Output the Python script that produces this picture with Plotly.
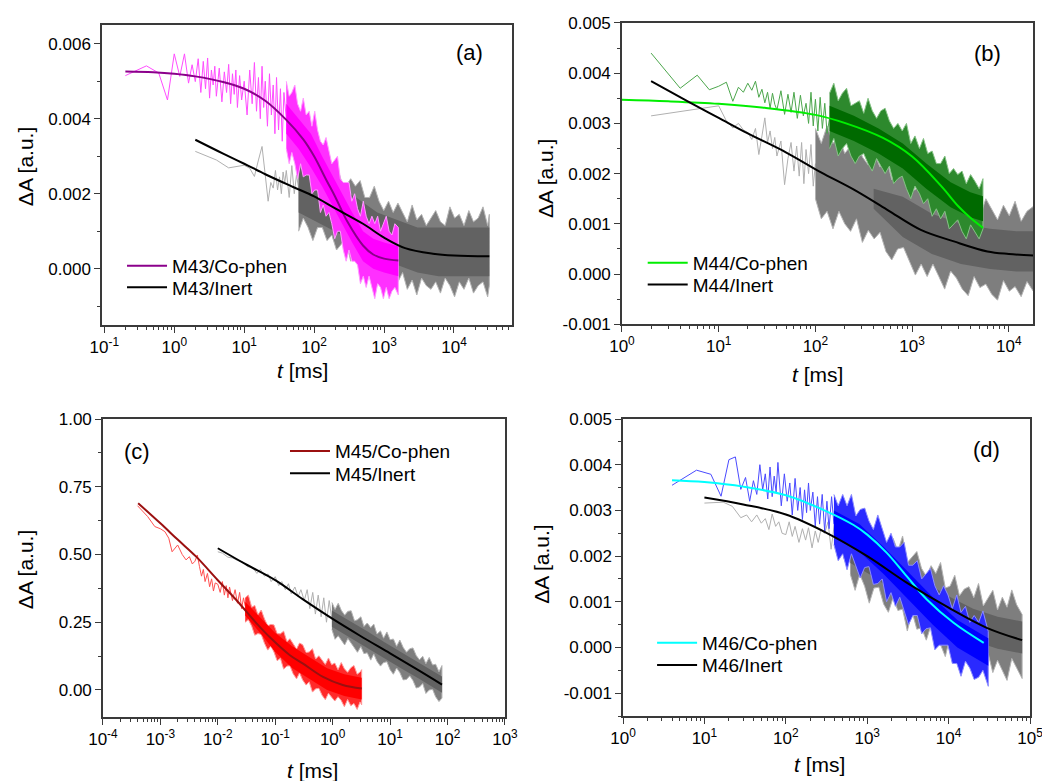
import plotly.graph_objects as go

# ================= panel (a): M43 =================
a_co_fit_t = [0.2, 0.5, 1, 2, 5, 10, 20, 40, 70, 100, 150, 200, 300, 500, 700, 1000, 1600]
a_co_fit = [0.00526, 0.00524, 0.0052, 0.00513, 0.00498, 0.0048, 0.00448, 0.00397, 0.00345, 0.0030,
            0.00236, 0.00192, 0.00125, 0.00062, 0.00038, 0.00027, 0.00022]
a_in_fit_t = [2, 5, 10, 20, 50, 100, 200, 500, 1000, 2000, 5000, 10000, 32000]
a_in_fit = [0.00344, 0.00307, 0.0028, 0.00252, 0.00218, 0.00193, 0.00161, 0.0012, 0.00083, 0.00055,
            0.0004, 0.00035, 0.00033]

# M43/Co-phen raw data: early single points, then noise envelope (outer) and dense core
a_co_t = [0.2, 0.4, 0.6, 0.8, 1.0, 1.2, 1.4, 1.6, 1.8, 2.0, 2.2, 2.4, 2.6, 2.8, 3.0, 3.2, 3.4, 3.6, 3.8,
          4.0, 4.4, 4.8, 5.2, 5.6, 6.0, 6.4, 6.8, 7.2, 7.6, 8.0, 8.6, 9.2, 10, 11, 12, 13, 14, 15, 16,
          17, 18, 19, 20, 21.5, 23, 24.5, 26, 27.5, 29, 31, 33, 35, 37, 40]
a_co = [0.00515, 0.00541, 0.00522, 0.00450, 0.00573, 0.00513, 0.00573, 0.00495, 0.00544, 0.00499,
        0.00560, 0.00470, 0.00553, 0.00480, 0.00562, 0.00455, 0.00530, 0.00490, 0.00540, 0.00460,
        0.00535, 0.00445, 0.00525, 0.00470, 0.00545, 0.00440, 0.00520, 0.00465, 0.00530, 0.00430,
        0.00515, 0.00450, 0.00500, 0.0041, 0.0053, 0.0044, 0.0055, 0.0042, 0.0051, 0.0040, 0.0054,
        0.0043, 0.0050, 0.0038, 0.0052, 0.0041, 0.0049, 0.0036, 0.0051, 0.0037, 0.0048, 0.0034,
        0.0047, 0.0040]
a_co_env_t = [40, 44, 48, 53, 58, 64, 70, 77, 85, 93, 102, 112, 123, 135, 148, 163, 179, 197, 216, 237,
              261, 287, 315, 346, 380, 418, 459, 505, 555, 610, 670, 737, 810, 890, 978, 1075, 1181,
              1298, 1427, 1600]
a_co_env_hi = [0.0050, 0.0046, 0.0047, 0.0049, 0.0044, 0.0042, 0.00455, 0.0041, 0.0042, 0.0038,
               0.0042, 0.0037, 0.0034, 0.0033, 0.0035, 0.0031, 0.0028, 0.0029, 0.0030, 0.0024,
               0.0023, 0.0023, 0.0023, 0.0018, 0.0020, 0.0016, 0.0014, 0.0018, 0.0014, 0.0012,
               0.0014, 0.0012, 0.0014, 0.0010, 0.0012, 0.0014, 0.0010, 0.0009, 0.0012, 0.0011]
a_co_env_lo = [0.0032, 0.0028, 0.0031, 0.0028, 0.0024, 0.0028, 0.00245, 0.0025, 0.0025, 0.0020,
               0.0021, 0.0021, 0.0015, 0.0017, 0.0014, 0.0015, 0.0012, 0.0008, 0.0010, 0.0010,
               0.0005, 0.0002, 0.0005, 0.0002, 0.0002, 0.0001, -0.0004, -0.0002, -0.0005, -0.0002,
               -0.0005, -0.0008, -0.0004, -0.0005, -0.0008, -0.0005, -0.0008, -0.0006, -0.0005, -0.0007]
a_co_core_t = [40, 60, 90, 130, 180, 250, 350, 500, 700, 1000, 1600]
a_co_core_hi = [0.0044, 0.0040, 0.0036, 0.0030, 0.0025, 0.0020, 0.0015, 0.0010, 0.0008, 0.0007, 0.0006]
a_co_core_lo = [0.0036, 0.0032, 0.0027, 0.0022, 0.0017, 0.0012, 0.0007, 0.0002, 0.0000, -0.0001, -0.0002]

# M43/Inert raw data
a_in_t = [2, 4, 6, 8, 10, 12, 14, 16, 18, 20, 22, 24, 26, 28, 30, 32, 34, 36, 38, 40, 44, 48, 52, 56, 60]
a_in = [0.00313, 0.00290, 0.00269, 0.00272, 0.00276, 0.00268, 0.00246, 0.00290, 0.00326, 0.00250,
        0.00180, 0.00230, 0.00215, 0.00262, 0.00210, 0.00245, 0.00200, 0.00258, 0.00228, 0.00262,
        0.00190, 0.00275, 0.00200, 0.00250, 0.00215]
a_in_env_t = [60, 70, 82, 96, 112, 131, 153, 179, 209, 244, 285, 333, 389, 455, 531, 620, 725, 847, 990,
              1160, 1350, 1580, 1840, 2150, 2520, 2940, 3440, 4010, 4690, 5480, 6400, 7480, 8740,
              10200, 11900, 13900, 16300, 19000, 22200, 26000, 30300, 32000]
a_in_env_hi = [0.0030, 0.00325, 0.0027, 0.00295, 0.0027, 0.0029, 0.00245, 0.0026, 0.0028, 0.00235,
               0.0022, 0.0024, 0.0022, 0.00235, 0.0019, 0.0019, 0.0022, 0.0018, 0.00155, 0.0018,
               0.0015, 0.00175, 0.0015, 0.00125, 0.0017, 0.0013, 0.00145, 0.00115, 0.00135, 0.00155,
               0.00125, 0.00115, 0.00165, 0.00135, 0.00145, 0.00115, 0.00155, 0.00125, 0.00135,
               0.00165, 0.00115, 0.00145]
a_in_env_lo = [0.0010, 0.00135, 0.0011, 0.00075, 0.0011, 0.0011, 0.00075, 0.0009, 0.0005, 0.00065,
               0.0008, 0.0002, 0.0005, 0.00025, 0.0005, 0.0002, -0.0001, 0.0001, -0.00035, 0.0001,
               -0.0002, -0.00035, -0.0001, -0.00055, -0.0003, -0.0007, -0.00025, -0.00045, -0.00055,
               -0.00035, -0.00065, -0.00025, -0.00045, -0.00075, -0.00035, -0.00055, -0.00025,
               -0.00065, -0.00045, -0.00035, -0.00075, -0.00045]
a_in_core_t = [60, 100, 200, 400, 800, 1500, 3000, 6000, 12000, 32000]
a_in_core_hi = [0.0027, 0.0025, 0.0022, 0.0019, 0.0015, 0.0013, 0.0011, 0.0011, 0.0011, 0.0011]
a_in_core_lo = [0.0015, 0.0013, 0.0010, 0.0007, 0.0003, 0.0001, -0.0001, -0.0002, -0.0002, -0.0002]

# ================= panel (b): M44 =================
b_co_fit_t = [1, 3, 10, 30, 100, 200, 500, 1000, 2000, 3000, 4000, 5400]
b_co_fit = [0.00347, 0.00344, 0.00339, 0.00331, 0.00317, 0.00301, 0.00271, 0.00234, 0.00175, 0.00135,
            0.00112, 0.00092]
b_in_fit_t = [2, 5, 10, 20, 50, 113, 250, 553, 1230, 2700, 6000, 10000, 18000]
b_in_fit = [0.00384, 0.00342, 0.00311, 0.0028, 0.00242, 0.00203, 0.00168, 0.00128, 0.00088, 0.00065,
            0.00045, 0.0004, 0.00037]

b_co_t = [2, 4, 6, 8, 10, 12, 14, 16, 18, 20, 22, 24, 26, 28, 30, 32, 34, 36, 38, 40, 44, 48, 52, 56,
          60, 65, 70, 75, 80, 85, 90, 95, 100, 106, 112, 118, 125, 132, 140]
b_co = [0.00440, 0.00370, 0.00396, 0.00367, 0.00374, 0.00382, 0.00344, 0.00372, 0.00362, 0.00380,
        0.00366, 0.00384, 0.00352, 0.00368, 0.00341, 0.00362, 0.00330, 0.00360, 0.00338, 0.00327,
        0.00365, 0.00318, 0.00358, 0.00322, 0.00362, 0.00310, 0.00356, 0.00315, 0.00340, 0.00300,
        0.00362, 0.00295, 0.00348, 0.00285, 0.00352, 0.00290, 0.00340, 0.00280, 0.00310]
b_co_env_t = [140, 155, 172, 190, 210, 233, 258, 285, 316, 350, 387, 429, 475, 526, 582, 644, 713, 790,
              874, 968, 1070, 1190, 1310, 1450, 1610, 1780, 1970, 2180, 2420, 2680, 2960, 3280, 3630,
              4020, 4450, 4930, 5400]
b_co_env_hi = [0.0036, 0.0038, 0.00345, 0.0036, 0.0037, 0.00335, 0.0034, 0.00345, 0.0032, 0.0035,
               0.00325, 0.0031, 0.00325, 0.0033, 0.00305, 0.0029, 0.0030, 0.00285, 0.0030, 0.0026,
               0.00275, 0.0025, 0.0027, 0.0024, 0.00245, 0.0022, 0.0022, 0.00235, 0.0020, 0.0021,
               0.00198, 0.00205, 0.0018, 0.00198, 0.00185, 0.0017, 0.0019]
b_co_env_lo = [0.0025, 0.0027, 0.00235, 0.0025, 0.0026, 0.00235, 0.0022, 0.00235, 0.0024, 0.0022,
               0.00205, 0.0023, 0.00215, 0.0020, 0.00215, 0.0018, 0.0019, 0.00195, 0.0017, 0.0015,
               0.00175, 0.0016, 0.0014, 0.0015, 0.00115, 0.0013, 0.0011, 0.00125, 0.0009, 0.0010,
               0.00108, 0.00085, 0.0007, 0.00098, 0.00085, 0.0007, 0.0009]
b_co_core_t = [140, 250, 450, 800, 1400, 2500, 4000, 5400]
b_co_core_hi = [0.00335, 0.00315, 0.0029, 0.0026, 0.0022, 0.00183, 0.00163, 0.00155]
b_co_core_lo = [0.00285, 0.00265, 0.0024, 0.0021, 0.0017, 0.00133, 0.00113, 0.00105]

b_in_t = [2, 10, 12, 14, 16, 18, 20, 22, 24, 26, 28, 30, 32, 34, 36, 38, 40, 44, 48, 52, 56, 60, 64,
          68, 72, 76, 80, 85, 90, 95, 100]
b_in = [0.00315, 0.00335, 0.00305, 0.00291, 0.00300, 0.00287, 0.00282, 0.00268, 0.00290, 0.00238,
        0.00275, 0.00311, 0.00262, 0.00285, 0.00250, 0.00272, 0.00235, 0.00265, 0.00178, 0.00230,
        0.00262, 0.00205, 0.00255, 0.00195, 0.00262, 0.00180, 0.00248, 0.00200, 0.00258, 0.00175,
        0.00220]
b_in_env_t = [100, 115, 132, 152, 175, 201, 231, 266, 306, 352, 405, 466, 536, 616, 708, 815, 937, 1080,
              1240, 1430, 1640, 1890, 2170, 2500, 2870, 3300, 3800, 4370, 5020, 5780, 6640, 7640, 8790,
              10100, 11600, 13400, 15400, 18000]
b_in_env_hi = [0.0029, 0.0026, 0.00295, 0.0026, 0.00275, 0.0024, 0.00255, 0.0027, 0.00233, 0.00217,
               0.0024, 0.00213, 0.00235, 0.00188, 0.0020, 0.00203, 0.00165, 0.00168, 0.0019, 0.00165,
               0.0014, 0.00165, 0.0014, 0.00166, 0.00122, 0.0014, 0.00127, 0.00145, 0.00113, 0.0015,
               0.0013, 0.00108, 0.00137, 0.00116, 0.00145, 0.00105, 0.00125, 0.00135]
b_in_env_lo = [0.0015, 0.0011, 0.00125, 0.0009, 0.00125, 0.0010, 0.00085, 0.0011, 0.00063, 0.00087,
               0.0007, 0.00083, 0.00045, 0.00028, 0.0005, 0.00053, 0.00025, -0.00002, 0.0002, -0.00005,
               0.0002, -0.00005, -0.0003, 0.00006, -0.00008, -0.0003, -0.00043, -0.00005, -0.00027,
               -0.0002, -0.0004, -0.00052, -0.00013, -0.00034, -0.00025, -0.00045, -0.00015, -0.00035]
b_in_core_t = [400, 800, 1600, 3200, 6400, 12000, 18000]
b_in_core_hi = [0.0017, 0.00154, 0.0012, 0.0010, 0.0009, 0.00085, 0.00085]
b_in_core_lo = [0.0013, 0.00074, 0.0004, 0.0002, 0.0001, 0.00005, 0.00005]

# ================= panel (c): M45 =================
c_co_fit_t = [4.1e-4, 1e-3, 2e-3, 4.2e-3, 0.01, 0.021, 0.05, 0.079, 0.18, 0.30, 0.68, 1.5, 3.2]
c_co_fit = [0.689, 0.615, 0.555, 0.492, 0.405, 0.332, 0.24, 0.196, 0.128, 0.098, 0.048, 0.018, 0.005]
c_in_fit_t = [0.01, 0.03, 0.1, 0.3, 1, 3, 10, 30, 80]
c_in_fit = [0.523, 0.465, 0.405, 0.335, 0.262, 0.20, 0.135, 0.075, 0.02]

c_co_t = [4e-4, 6e-4, 8e-4, 1.0e-3, 1.2e-3, 1.4e-3, 1.6e-3, 2.0e-3, 2.4e-3, 2.8e-3, 3.2e-3, 3.6e-3,
          4.0e-3, 4.4e-3, 4.8e-3, 5.2e-3, 5.6e-3, 6.0e-3, 6.6e-3, 7.2e-3, 7.8e-3, 8.4e-3, 9.0e-3,
          0.010, 0.011, 0.012, 0.013, 0.014, 0.015, 0.016, 0.018, 0.020, 0.022, 0.024, 0.026, 0.028, 0.030]
c_co = [0.680, 0.640, 0.603, 0.595, 0.584, 0.560, 0.510, 0.535, 0.500, 0.480, 0.492, 0.465, 0.475,
        0.498, 0.455, 0.420, 0.445, 0.400, 0.430, 0.381, 0.410, 0.365, 0.395, 0.390, 0.36, 0.40, 0.35,
        0.385, 0.34, 0.38, 0.33, 0.37, 0.32, 0.36, 0.30, 0.34, 0.31]
c_co_env_t = [0.03, 0.034, 0.039, 0.044, 0.05, 0.057, 0.065, 0.074, 0.084, 0.095, 0.108, 0.123, 0.14,
              0.16, 0.18, 0.205, 0.235, 0.265, 0.3, 0.345, 0.39, 0.445, 0.505, 0.575, 0.655, 0.745,
              0.845, 0.96, 1.09, 1.24, 1.41, 1.6, 1.82, 2.07, 2.35, 2.67, 3.0, 3.2]
c_co_env_hi = [0.34, 0.35, 0.305, 0.312, 0.278, 0.295, 0.262, 0.237, 0.242, 0.24, 0.208, 0.207, 0.217,
               0.178, 0.189, 0.17, 0.151, 0.173, 0.167, 0.138, 0.14, 0.152, 0.114, 0.126, 0.11, 0.094,
               0.118, 0.093, 0.099, 0.075, 0.101, 0.078, 0.065, 0.082, 0.09, 0.058, 0.066, 0.075]
c_co_env_lo = [0.25, 0.26, 0.235, 0.202, 0.208, 0.205, 0.172, 0.147, 0.162, 0.14, 0.108, 0.117, 0.077,
               0.088, 0.089, 0.06, 0.041, 0.063, 0.037, 0.018, 0.03, -0.008, 0.004, 0.006, -0.02,
               -0.036, -0.012, -0.027, -0.041, -0.025, -0.039, -0.062, -0.035, -0.058, -0.05, -0.072,
               -0.044, -0.055]
c_co_core_t = [0.03, 0.06, 0.1, 0.2, 0.4, 0.8, 1.6, 3.2]
c_co_core_hi = [0.325, 0.26, 0.21, 0.16, 0.119, 0.08, 0.058, 0.045]
c_co_core_lo = [0.275, 0.20, 0.14, 0.08, 0.039, 0.0, -0.022, -0.035]

c_in_t = [0.01, 0.012, 0.015, 0.018, 0.022, 0.027, 0.033, 0.04, 0.048, 0.055, 0.065, 0.075, 0.085, 0.1,
          0.115, 0.13, 0.15, 0.17, 0.19, 0.22, 0.25, 0.28, 0.32, 0.36, 0.4, 0.45, 0.5, 0.56, 0.63, 0.7,
          0.78, 0.87, 0.97]
c_in = [0.510, 0.505, 0.49, 0.487, 0.478, 0.473, 0.455, 0.452, 0.43, 0.445, 0.42, 0.428, 0.40, 0.418,
        0.385, 0.40, 0.37, 0.392, 0.355, 0.38, 0.345, 0.37, 0.33, 0.37, 0.30, 0.36, 0.28, 0.35, 0.27,
        0.34, 0.25, 0.33, 0.26]
c_in_env_t = [0.97, 1.1, 1.25, 1.42, 1.62, 1.84, 2.1, 2.4, 2.7, 3.1, 3.5, 4.0, 4.6, 5.2, 5.9, 6.8, 7.7,
              8.8, 10, 11.4, 13, 14.8, 16.9, 19.3, 22, 25, 28.5, 32.5, 37, 42, 48, 55, 62, 71, 80]
c_in_env_hi = [0.323, 0.297, 0.32, 0.293, 0.276, 0.29, 0.292, 0.255, 0.259, 0.27, 0.234, 0.247, 0.23,
               0.243, 0.206, 0.218, 0.191, 0.214, 0.185, 0.188, 0.161, 0.184, 0.157, 0.139, 0.152,
               0.155, 0.127, 0.111, 0.124, 0.097, 0.12, 0.092, 0.095, 0.067, 0.09]
c_in_env_lo = [0.223, 0.187, 0.20, 0.183, 0.166, 0.19, 0.172, 0.155, 0.139, 0.16, 0.134, 0.137, 0.11,
               0.133, 0.106, 0.088, 0.101, 0.104, 0.075, 0.058, 0.081, 0.064, 0.037, 0.039, 0.052,
               0.035, 0.007, 0.011, 0.024, -0.013, 0.0, 0.002, -0.025, -0.043, -0.03]
c_in_core_t = [0.97, 2, 4, 8, 16, 32, 64, 80]
c_in_core_hi = [0.293, 0.254, 0.217, 0.176, 0.138, 0.101, 0.063, 0.05]
c_in_core_lo = [0.233, 0.194, 0.157, 0.116, 0.078, 0.041, 0.003, -0.01]

# ================= panel (d): M46 =================
d_co_fit_t = [4, 10, 30, 100, 316, 680, 1000, 1740, 3050, 5400, 11500, 27000]
d_co_fit = [0.00366, 0.00362, 0.00352, 0.00333, 0.00298, 0.00268, 0.00247, 0.00207, 0.00156, 0.00105,
            0.00054, 0.0001]
d_in_fit_t = [10, 30, 100, 316, 1000, 3050, 10000, 29400, 80000]
d_in_fit = [0.00328, 0.00313, 0.00291, 0.00251, 0.0020, 0.00142, 0.00087, 0.00043, 0.00016]

d_co_t = [4, 8, 12, 16, 20, 24, 28, 32, 36, 40, 44, 48, 52, 56, 60, 64, 68, 72, 76, 80, 88, 96, 104,
          112, 120, 130, 140, 150, 160, 170, 180, 190, 200, 215, 230, 245, 260, 280, 300, 320, 340,
          365, 390]
d_co = [0.00355, 0.00388, 0.00379, 0.00331, 0.00411, 0.00417, 0.00346, 0.00372, 0.00320, 0.00365,
        0.00335, 0.00400, 0.00345, 0.00380, 0.00325, 0.00395, 0.00330, 0.00375, 0.00340, 0.00405,
        0.00310, 0.00380, 0.00320, 0.00360, 0.00290, 0.00370, 0.00300, 0.00350, 0.00280, 0.00345,
        0.00295, 0.00360, 0.00300, 0.00340, 0.00265, 0.00330, 0.00270, 0.00335, 0.00255, 0.00320,
        0.00260, 0.00330, 0.00270]
d_co_env_t = [390, 440, 500, 565, 640, 725, 820, 930, 1050, 1190, 1350, 1530, 1730, 1960, 2220, 2510,
              2840, 3220, 3640, 4120, 4670, 5280, 5980, 6770, 7660, 8670, 9820, 11100, 12600, 14200,
              16100, 18200, 20600, 23400, 26400, 30700]
d_co_env_hi = [0.00335, 0.0031, 0.00335, 0.0031, 0.00335, 0.00288, 0.00302, 0.00305, 0.00277, 0.00258,
               0.0029, 0.0026, 0.0023, 0.0025, 0.0022, 0.0022, 0.0023, 0.0018, 0.0018, 0.0019, 0.0015,
               0.00161, 0.00173, 0.00135, 0.00115, 0.00135, 0.00115, 0.00085, 0.00115, 0.00077,
               0.0009, 0.00055, 0.0007, 0.00055, 0.0008, 0.00035]
d_co_env_lo = [0.00225, 0.0019, 0.00205, 0.0017, 0.00205, 0.00178, 0.00152, 0.00175, 0.00177, 0.00138,
               0.0014, 0.0015, 0.0010, 0.0012, 0.0009, 0.0011, 0.0008, 0.0005, 0.0007, 0.0007, 0.0003,
               0.00041, 0.00043, -0.00005, 0.00005, 0.00005, 0.00005, -0.00035, -0.00035, -0.00063,
               -0.0003, -0.00045, -0.0007, -0.00065, -0.0005, -0.00085]
d_co_core_t = [390, 800, 1600, 3200, 6400, 12800, 30700]
d_co_core_hi = [0.0030, 0.0027, 0.0022, 0.00165, 0.0011, 0.0006, 0.0002]
d_co_core_lo = [0.0024, 0.0021, 0.0016, 0.00105, 0.0005, 0.0000, -0.0004]

d_in_t = [10, 17, 22, 28, 33, 38, 44, 50, 56, 62, 68, 75, 82, 90, 100, 110, 120, 130, 145, 160, 175,
          190, 210, 230, 250, 270, 300, 330, 360, 395, 430, 470, 515, 565, 620]
d_in = [0.00316, 0.00318, 0.00309, 0.00284, 0.00290, 0.00275, 0.00290, 0.00272, 0.00282, 0.00258,
        0.00292, 0.00265, 0.00275, 0.00250, 0.00247, 0.00275, 0.00243, 0.00265, 0.00230, 0.00260,
        0.00235, 0.00262, 0.00218, 0.00255, 0.00230, 0.00258, 0.00250, 0.00275, 0.00215, 0.00270,
        0.00205, 0.00262, 0.00195, 0.00255, 0.00220]
d_in_env_t = [620, 710, 810, 930, 1060, 1210, 1390, 1590, 1820, 2080, 2380, 2720, 3110, 3560, 4070,
              4650, 5320, 6090, 6960, 7960, 9110, 10400, 11900, 13600, 15600, 17800, 20400, 23300,
              26700, 30500, 34900, 39900, 45700, 52200, 59700, 68300, 80000]
d_in_env_hi = [0.0030, 0.00265, 0.0028, 0.00304, 0.00257, 0.0024, 0.00272, 0.00245, 0.00217, 0.00239,
               0.00211, 0.00244, 0.00186, 0.00198, 0.0021, 0.00173, 0.00156, 0.00179, 0.00162,
               0.00186, 0.0013, 0.00134, 0.00158, 0.00113, 0.00128, 0.00133, 0.00109, 0.0014, 0.00091,
               0.00108, 0.00125, 0.00082, 0.0011, 0.00088, 0.00126, 0.00094, 0.00072]
d_in_env_lo = [0.0016, 0.00125, 0.0016, 0.00134, 0.00097, 0.0013, 0.00132, 0.00095, 0.00077, 0.00109,
               0.00081, 0.00084, 0.00036, 0.00078, 0.0004, 0.00043, 0.00016, 0.00049, 0.00032, 0.00006,
               -0.0002, 0.00024, -0.00002, -0.00027, -0.00002, 0.00003, -0.00031, -0.00055, -0.00029,
               -0.00012, -0.00055, -0.00028, -0.0005, -0.00072, -0.00024, -0.00046, -0.00068]
d_in_core_t = [620, 1200, 2500, 5000, 10000, 20000, 40000, 80000]
d_in_core_hi = [0.00255, 0.00225, 0.00183, 0.00145, 0.00112, 0.00085, 0.00067, 0.00057]
d_in_core_lo = [0.00185, 0.00155, 0.00113, 0.00075, 0.00042, 0.00015, -0.00003, -0.00013]

# ================= tick labels =================
a_xtick_vals = [0.1, 1, 10, 100, 1000, 10000]
a_xtick_text = ["10<sup>-1</sup>", "10<sup>0</sup>", "10<sup>1</sup>", "10<sup>2</sup>", "10<sup>3</sup>",
                "10<sup>4</sup>"]
b_xtick_vals = [1, 10, 100, 1000, 10000]
b_xtick_text = ["10<sup>0</sup>", "10<sup>1</sup>", "10<sup>2</sup>", "10<sup>3</sup>", "10<sup>4</sup>"]
c_xtick_vals = [1e-4, 1e-3, 1e-2, 0.1, 1, 10, 100, 1000]
c_xtick_text = ["10<sup>-4</sup>", "10<sup>-3</sup>", "10<sup>-2</sup>", "10<sup>-1</sup>", "10<sup>0</sup>",
                "10<sup>1</sup>", "10<sup>2</sup>", "10<sup>3</sup>"]
d_xtick_vals = [1, 10, 100, 1000, 10000, 100000]
d_xtick_text = ["10<sup>0</sup>", "10<sup>1</sup>", "10<sup>2</sup>", "10<sup>3</sup>", "10<sup>4</sup>",
                "10<sup>5</sup>"]

a_ytick_vals = [0.0, 0.002, 0.004, 0.006]
a_ytick_text = ["0.000", "0.002", "0.004", "0.006"]
b_ytick_vals = [-0.001, 0.0, 0.001, 0.002, 0.003, 0.004, 0.005]
b_ytick_text = ["-0.001", "0.000", "0.001", "0.002", "0.003", "0.004", "0.005"]
c_ytick_vals = [0.0, 0.25, 0.5, 0.75, 1.0]
c_ytick_text = ["0.00", "0.25", "0.50", "0.75", "1.00"]
d_ytick_vals = b_ytick_vals
d_ytick_text = b_ytick_text

FONT = "Liberation Sans, Arial, sans-serif"
AX = "#3a3a3a"


def fit_line(t, y, xa, ya, color, name, legend):
    return go.Scatter(x=t, y=y, xaxis=xa, yaxis=ya, mode="lines", name=name, legend=legend,
                      line=dict(color=color, width=2, shape="spline"), hoverinfo="skip")


def raw_line(t, y, xa, ya, color):
    return go.Scatter(x=t, y=y, xaxis=xa, yaxis=ya, mode="lines", showlegend=False,
                      line=dict(color=color, width=1), hoverinfo="skip")


def raw_band(t, lo, hi, xa, ya, fill, edge, width=1):
    return go.Scatter(x=t + t[::-1], y=hi + lo[::-1], xaxis=xa, yaxis=ya, mode="lines",
                      fill="toself", fillcolor=fill, line=dict(color=edge, width=width),
                      showlegend=False, hoverinfo="skip")


GRAY_THIN, GRAY_OUT, GRAY_EDGE, GRAY_CORE = "#b0b0b0", "#7e7e7e", "#b4b4b4", "#626262"

traces = [
    # (a)
    raw_line(a_in_t, a_in, "x", "y", GRAY_THIN),
    raw_band(a_in_env_t, a_in_env_lo, a_in_env_hi, "x", "y", GRAY_OUT, GRAY_EDGE),
    raw_band(a_in_core_t, a_in_core_lo, a_in_core_hi, "x", "y", GRAY_CORE, GRAY_CORE, 0),
    raw_line(a_co_t, a_co, "x", "y", "#ff4dff"),
    raw_band(a_co_env_t, a_co_env_lo, a_co_env_hi, "x", "y", "#ff30ff", "#ff9cff"),
    raw_band(a_co_core_t, a_co_core_lo, a_co_core_hi, "x", "y", "#ff00ff", "#ff00ff", 0),
    fit_line(a_co_fit_t, a_co_fit, "x", "y", "#8b008b", "M43/Co-phen", "legend"),
    fit_line(a_in_fit_t, a_in_fit, "x", "y", "#000000", "M43/Inert", "legend2"),
    # (b)
    raw_line(b_in_t, b_in, "x2", "y2", GRAY_THIN),
    raw_band(b_in_env_t, b_in_env_lo, b_in_env_hi, "x2", "y2", GRAY_OUT, GRAY_EDGE),
    raw_band(b_in_core_t, b_in_core_lo, b_in_core_hi, "x2", "y2", GRAY_CORE, GRAY_CORE, 0),
    raw_line(b_co_t, b_co, "x2", "y2", "#4ca64c"),
    raw_band(b_co_env_t, b_co_env_lo, b_co_env_hi, "x2", "y2", "#2d892d", "#86c286"),
    raw_band(b_co_core_t, b_co_core_lo, b_co_core_hi, "x2", "y2", "#006a00", "#006a00", 0),
    fit_line(b_co_fit_t, b_co_fit, "x2", "y2", "#00ee00", "M44/Co-phen", "legend3"),
    fit_line(b_in_fit_t, b_in_fit, "x2", "y2", "#000000", "M44/Inert", "legend4"),
    # (c)
    raw_line(c_in_t, c_in, "x3", "y3", GRAY_THIN),
    raw_band(c_in_env_t, c_in_env_lo, c_in_env_hi, "x3", "y3", GRAY_OUT, GRAY_EDGE),
    raw_band(c_in_core_t, c_in_core_lo, c_in_core_hi, "x3", "y3", GRAY_CORE, GRAY_CORE, 0),
    raw_line(c_co_t, c_co, "x3", "y3", "#ff5050"),
    raw_band(c_co_env_t, c_co_env_lo, c_co_env_hi, "x3", "y3", "#ff2a2a", "#ff9a9a"),
    raw_band(c_co_core_t, c_co_core_lo, c_co_core_hi, "x3", "y3", "#ff0000", "#ff0000", 0),
    fit_line(c_co_fit_t, c_co_fit, "x3", "y3", "#9b1010", "M45/Co-phen", "legend5"),
    fit_line(c_in_fit_t, c_in_fit, "x3", "y3", "#000000", "M45/Inert", "legend6"),
    # (d)
    raw_line(d_in_t, d_in, "x4", "y4", GRAY_THIN),
    raw_band(d_in_env_t, d_in_env_lo, d_in_env_hi, "x4", "y4", GRAY_OUT, GRAY_EDGE),
    raw_band(d_in_core_t, d_in_core_lo, d_in_core_hi, "x4", "y4", GRAY_CORE, GRAY_CORE, 0),
    raw_line(d_co_t, d_co, "x4", "y4", "#4a4aff"),
    raw_band(d_co_env_t, d_co_env_lo, d_co_env_hi, "x4", "y4", "#2a2aff", "#8c8cff"),
    raw_band(d_co_core_t, d_co_core_lo, d_co_core_hi, "x4", "y4", "#0000ff", "#0000ff", 0),
    fit_line(d_co_fit_t, d_co_fit, "x4", "y4", "#00ffff", "M46/Co-phen", "legend7"),
    fit_line(d_in_fit_t, d_in_fit, "x4", "y4", "#000000", "M46/Inert", "legend8"),
]

fig = go.Figure(data=traces)


def minor_log(e0, e1):
    return [m * 10 ** e for e in range(e0, e1) for m in range(2, 10)]


def xaxis(domain, rng, vals, text, anchor, e0, e1):
    return dict(type="log", domain=domain, range=rng, anchor=anchor, tickmode="array",
                tickvals=vals, ticktext=text, ticks="outside", ticklen=6, tickwidth=1.2,
                tickcolor=AX, showline=True, linecolor=AX, linewidth=1.5, mirror=True,
                showgrid=False, zeroline=False, automargin=False, ticklabeloverflow="allow",
                tickfont=dict(size=17, color="black", family=FONT),
                minor=dict(tickmode="array", tickvals=minor_log(e0, e1), ticks="outside",
                           ticklen=3, tickwidth=1, tickcolor=AX, showgrid=False))


def yaxis(domain, rng, vals, text, anchor, mdt):
    return dict(domain=domain, range=rng, anchor=anchor, tickmode="array", tickvals=vals,
                ticktext=text, ticks="outside", ticklen=6, tickwidth=1.2, tickcolor=AX,
                showline=True, linecolor=AX, linewidth=1.5, mirror=True, showgrid=False,
                zeroline=False, automargin=False,
                tickfont=dict(size=17, color="black", family=FONT),
                minor=dict(tickmode="linear", tick0=0, dtick=mdt, ticks="outside", ticklen=3,
                           tickwidth=1, tickcolor=AX, showgrid=False))


def legend(x, y):
    return dict(x=x, y=y, xanchor="left", yanchor="top", bgcolor="rgba(0,0,0,0)",
                font=dict(size=19, family=FONT, color="black"), itemwidth=40)


def label(x, y, txt, size=21, angle=0):
    return dict(x=x, y=y, xref="paper", yref="paper", text=txt, showarrow=False,
                xanchor="center", yanchor="middle", textangle=angle,
                font=dict(size=size, family=FONT, color="black"))


annotations = []
for x, y in [(0.024, 0.786), (0.523, 0.772), (0.024, 0.270), (0.520, 0.278)]:
    annotations.append(label(x, y, "\u0394A [a.u.]", angle=-90))
for x, y in [(0.290, 0.526), (0.785, 0.520), (0.300, 0.014), (0.786, 0.0205)]:
    annotations.append(label(x, y, "<i>t</i> [ms]"))
for x, y, txt in [(0.451, 0.933, "(a)"), (0.948, 0.932, "(b)"), (0.131, 0.4225, "(c)"),
                  (0.947, 0.425, "(d)")]:
    annotations.append(label(x, y, txt, size=22))

fig.update_layout(
    width=1042, height=781, margin=dict(l=0, r=0, t=0, b=0, autoexpand=False),
    paper_bgcolor="white", plot_bgcolor="white",
    font=dict(family=FONT, color="black"),
    xaxis=xaxis([0.0979, 0.4914], [-1.033, 4.83], a_xtick_vals, a_xtick_text, "y", -1, 5),
    yaxis=yaxis([0.5839, 0.968], [-0.0015, 0.0065], a_ytick_vals, a_ytick_text, "x", 0.001),
    xaxis2=xaxis([0.5969, 0.9914], [0, 4.25], b_xtick_vals, b_xtick_text, "y2", 0, 5),
    yaxis2=yaxis([0.5848, 0.9706], [-0.001, 0.005], b_ytick_vals, b_ytick_text, "x2", 0.0005),
    xaxis3=xaxis([0.0988, 0.4846], [-4, 3], c_xtick_vals, c_xtick_text, "y3", -4, 3),
    yaxis3=yaxis([0.0819, 0.4635], [-0.1, 1.0], c_ytick_vals, c_ytick_text, "x3", 0.125),
    xaxis4=xaxis([0.5979, 0.9885], [0, 5], d_xtick_vals, d_xtick_text, "y4", 0, 5),
    yaxis4=yaxis([0.0832, 0.4635], [-0.0015, 0.005], d_ytick_vals, d_ytick_text, "x4", 0.0005),
    legend=legend(0.1171, 0.6838),
    legend2=legend(0.1171, 0.6563),
    legend3=legend(0.6168, 0.6876),
    legend4=legend(0.6168, 0.6598),
    legend5=legend(0.2735, 0.4466),
    legend6=legend(0.2735, 0.4181),
    legend7=legend(0.6258, 0.2013),
    legend8=legend(0.6258, 0.1726),
    annotations=annotations,
)

# the page body has a default 8px margin; remove it so the figure sits at the window origin
fig.write_html("out.html", config={"displayModeBar": False},
               post_script="document.body.style.margin='0px';")
